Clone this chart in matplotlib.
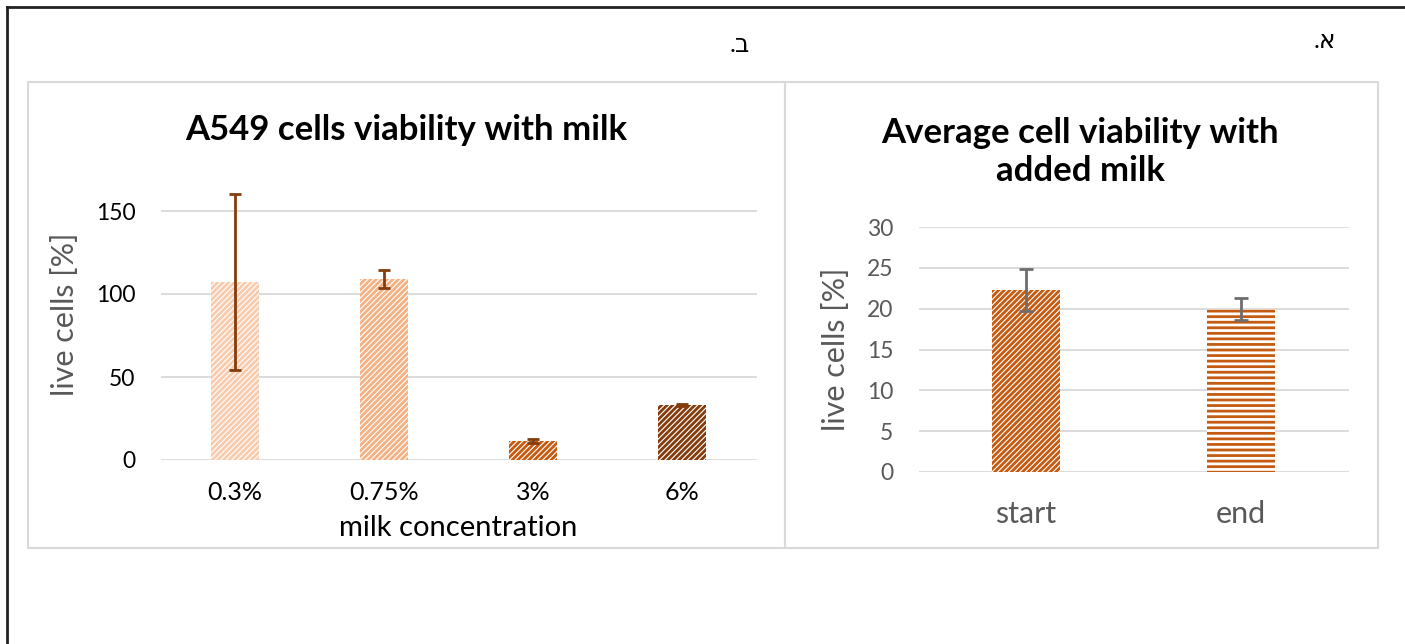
import numpy as np
import matplotlib.pyplot as plt
from matplotlib.patches import Rectangle
from matplotlib.lines import Line2D

plt.rcParams['font.family'] = ['Lato', 'DejaVu Sans']
plt.rcParams['hatch.linewidth'] = 2.0

# left chart: A549 viability
conc = ["0.3%", "0.75%", "3%", "6%"]
viab = [107, 109, 11.4, 33]
viab_err = [53, 5.5, 1.0, 0.6]
conc_colors = ["#F8CBAD", "#F4B183", "#C55A11", "#843C0C"]

# right chart: average viability
phase = ["start", "end"]
avg = [22.3, 20.0]
avg_err = [2.6, 1.35]

W, H = 1405, 644
fig = plt.figure(figsize=(W / 100, H / 100), dpi=100)


def px_axes(x0, x1, ytop, ybot):
    return fig.add_axes([x0 / W, 1 - ybot / H, (x1 - x0) / W, (ybot - ytop) / H])


def fx(x):
    return x / W


def fy(y):
    return 1 - y / H


# outer border (left + top only) and panel frames
fig.add_artist(Line2D([fx(7), fx(7)], [0, fy(7)], color="#222222", lw=2))
fig.add_artist(Line2D([fx(7), 1], [fy(7), fy(7)], color="#222222", lw=2))
for x0, x1 in [(28, 785), (785, 1378)]:
    fig.add_artist(Rectangle((fx(x0), fy(548)), fx(x1 - x0), (548 - 82) / H,
                             fill=False, edgecolor="#D9D9D9", lw=1.5))

fig.text(fx(740), fy(45), ".ב", fontsize=18, ha="center", va="center")
fig.text(fx(1325), fy(40), ".א", fontsize=18, ha="center", va="center")


def style(ax, tickcol):
    for s in ax.spines.values():
        s.set_visible(False)
    ax.yaxis.grid(True, color="#D9D9D9", lw=1.3)
    ax.set_axisbelow(True)
    ax.tick_params(length=0, labelsize=16.5, labelcolor=tickcol)


# ---- left
ax1 = px_axes(160.5, 756.5, 169.5, 460)
x = np.arange(len(conc))
for i in x:
    ax1.bar(i, viab[i], width=0.32, facecolor="white", edgecolor=conc_colors[i],
            hatch="//////", lw=0)
ax1.errorbar(x, viab, yerr=viab_err, fmt="none", ecolor="#843C0C", elinewidth=2,
             capsize=4.5, capthick=2)
ax1.set_xlim(-0.5, 3.5)
ax1.set_ylim(0, 175)
ax1.set_yticks([0, 50, 100, 150])
ax1.set_xticks(x, conc)
style(ax1, "black")
ax1.tick_params(axis="y", pad=18)
ax1.tick_params(axis="x", labelsize=18, pad=15)
ax1.set_xlabel("milk concentration", fontsize=21, labelpad=8)
ax1.set_ylabel("live cells [%]", fontsize=22, color="#595959", labelpad=12)
fig.text(fx(406), fy(130), "A549 cells viability with milk", fontsize=25,
         fontweight="bold", ha="center", va="center")

# ---- right
ax2 = px_axes(918.5, 1348.5, 227, 472)
x2 = np.arange(len(phase))
ax2.bar(0, avg[0], width=0.32, facecolor="white", edgecolor="#C55A11",
        hatch="//////", lw=0)
ax2.bar(1, avg[1], width=0.32, facecolor="#C55A11", edgecolor="white",
        hatch="---", lw=0)
ax2.errorbar(x2, avg, yerr=avg_err, fmt="none", ecolor="#6E6E6E", elinewidth=2,
             capsize=4.7, capthick=2)
ax2.set_xlim(-0.5, 1.5)
ax2.set_ylim(0, 30)
ax2.set_yticks(range(0, 31, 5))
ax2.set_xticks(x2, phase)
style(ax2, "#595959")
ax2.tick_params(axis="y", pad=18)
ax2.tick_params(axis="x", labelsize=22, pad=20)
ax2.set_ylabel("live cells [%]", fontsize=22, color="#595959", labelpad=12)
fig.text(fx(1080), fy(152), "Average cell viability with\nadded milk", fontsize=25,
         fontweight="bold", ha="center", va="center", linespacing=1.22)

fig.savefig("out.png", dpi=100)
